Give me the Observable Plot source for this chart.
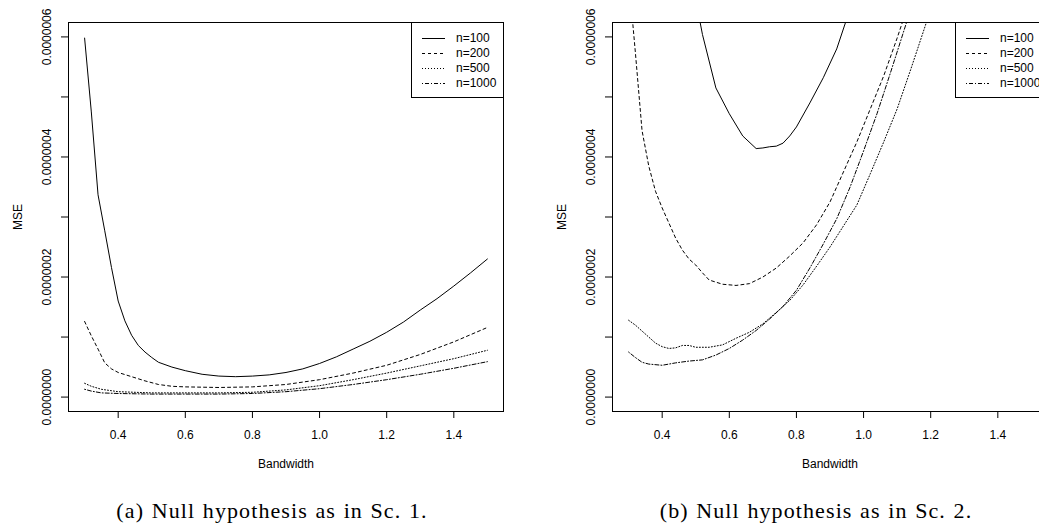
<!DOCTYPE html>
<html>
<head>
<meta charset="utf-8">
<script src="https://cdn.jsdelivr.net/npm/d3@7"></script>
<script src="https://cdn.jsdelivr.net/npm/@observablehq/plot@0.6"></script>
<style>
body { margin: 0; background: #fff; }
#wrap { position: relative; width: 1039px; height: 524px; overflow: hidden; background: #fff; }
.fig { position: absolute; top: 0; width: 544px; height: 524px; }
.cap { position: absolute; left: 0; width: 544px; top: 500px; text-align: center;
  font-family: "Liberation Serif", "DejaVu Serif", serif; font-size: 22px; line-height: 22px; color: #000;
  letter-spacing: 1.1px; word-spacing: 1px; }
.leg { position: absolute; left: 411px; top: 22px; width: 91px; height: 74px; border: 1px solid #000; background: #fff;
  font-family: "Liberation Sans", Arial, sans-serif; font-size: 12px; color: #000; }
.leg .sw { position: absolute; left: 10px; width: 23px; height: 14px; }
.leg .lb { position: absolute; left: 44px; height: 14px; line-height: 14px; white-space: nowrap; }
</style>
</head>
<body>
<div id="wrap"></div>
<script>
// ---------- data ----------
const seriesNames = ["n=100", "n=200", "n=500", "n=1000"];
const xTicks = [0.4, 0.6, 0.8, 1.0, 1.2, 1.4];
const yTicks = [0, 1e-7, 2e-7, 3e-7, 4e-7, 5e-7, 6e-7];
const yTickLabels = [0, 2e-7, 4e-7, 6e-7];
const captions = ["(a) Null hypothesis as in Sc. 1.", "(b) Null hypothesis as in Sc. 2."];

// Panel (a)
const a_bw_100 = [0.30,0.32,0.34,0.36,0.38,0.40,0.42,0.44,0.46,0.48,0.50,0.52,0.56,0.60,0.65,0.70,0.75,0.80,0.85,0.90,0.95,1.00,1.05,1.10,1.15,1.20,1.25,1.30,1.35,1.40,1.45,1.50];
const a_mse_100 = [5.98e-7,4.75e-7,3.37e-7,2.77e-7,2.16e-7,1.60e-7,1.27e-7,1.03e-7,0.86e-7,0.75e-7,0.66e-7,0.58e-7,0.50e-7,0.44e-7,0.38e-7,0.35e-7,0.34e-7,0.35e-7,0.37e-7,0.41e-7,0.47e-7,0.56e-7,0.67e-7,0.80e-7,0.93e-7,1.08e-7,1.25e-7,1.45e-7,1.64e-7,1.85e-7,2.07e-7,2.30e-7];
const a_bw_200 = [0.30,0.32,0.34,0.36,0.38,0.40,0.44,0.48,0.52,0.56,0.60,0.70,0.80,0.90,1.00,1.10,1.20,1.30,1.40,1.50];
const a_mse_200 = [1.26e-7,1.02e-7,0.80e-7,0.57e-7,0.47e-7,0.41e-7,0.34e-7,0.27e-7,0.21e-7,0.18e-7,0.17e-7,0.16e-7,0.17e-7,0.21e-7,0.29e-7,0.40e-7,0.53e-7,0.71e-7,0.92e-7,1.16e-7];
const a_bw_500 = [0.30,0.32,0.35,0.40,0.50,0.60,0.70,0.80,0.90,1.00,1.10,1.20,1.30,1.40,1.50];
const a_mse_500 = [0.23e-7,0.18e-7,0.13e-7,0.09e-7,0.07e-7,0.07e-7,0.07e-7,0.08e-7,0.12e-7,0.19e-7,0.29e-7,0.40e-7,0.52e-7,0.64e-7,0.78e-7];
const a_bw_1000 = [0.30,0.32,0.35,0.40,0.50,0.60,0.70,0.80,0.90,1.00,1.10,1.20,1.30,1.40,1.50];
const a_mse_1000 = [0.13e-7,0.10e-7,0.07e-7,0.06e-7,0.05e-7,0.05e-7,0.05e-7,0.06e-7,0.09e-7,0.14e-7,0.21e-7,0.29e-7,0.38e-7,0.48e-7,0.59e-7];

// Panel (b)
const b_bw_100 = [0.48,0.52,0.56,0.60,0.64,0.68,0.70,0.72,0.74,0.76,0.78,0.80,0.84,0.88,0.92,0.96,1.00];
const b_mse_100 = [7.2e-7,6.04e-7,5.15e-7,4.72e-7,4.35e-7,4.14e-7,4.15e-7,4.17e-7,4.18e-7,4.23e-7,4.35e-7,4.50e-7,4.90e-7,5.32e-7,5.80e-7,6.47e-7,7.3e-7];
const b_bw_200 = [0.30,0.32,0.34,0.36,0.38,0.40,0.44,0.46,0.48,0.50,0.52,0.54,0.58,0.62,0.66,0.70,0.74,0.78,0.82,0.86,0.90,0.94,0.98,1.02,1.06,1.10,1.14];
const b_mse_200 = [7.0e-7,5.75e-7,4.44e-7,3.85e-7,3.43e-7,3.15e-7,2.65e-7,2.45e-7,2.30e-7,2.20e-7,2.07e-7,1.95e-7,1.88e-7,1.86e-7,1.89e-7,2.00e-7,2.15e-7,2.35e-7,2.57e-7,2.87e-7,3.25e-7,3.75e-7,4.25e-7,4.80e-7,5.35e-7,5.98e-7,6.65e-7];
const b_bw_500 = [0.30,0.32,0.34,0.36,0.38,0.40,0.42,0.44,0.46,0.48,0.50,0.54,0.58,0.62,0.66,0.70,0.74,0.78,0.82,0.86,0.90,0.94,0.98,1.02,1.06,1.10,1.14,1.18,1.22];
const b_mse_500 = [1.28e-7,1.20e-7,1.10e-7,1.00e-7,0.90e-7,0.84e-7,0.81e-7,0.82e-7,0.86e-7,0.86e-7,0.83e-7,0.83e-7,0.87e-7,0.98e-7,1.08e-7,1.22e-7,1.41e-7,1.61e-7,1.87e-7,2.18e-7,2.50e-7,2.85e-7,3.20e-7,3.72e-7,4.25e-7,4.80e-7,5.45e-7,6.12e-7,6.8e-7];
const b_bw_1000 = [0.30,0.32,0.34,0.36,0.40,0.44,0.48,0.52,0.56,0.60,0.64,0.68,0.72,0.76,0.80,0.84,0.88,0.92,0.96,1.00,1.04,1.08,1.12,1.16];
const b_mse_1000 = [0.75e-7,0.66e-7,0.58e-7,0.55e-7,0.53e-7,0.57e-7,0.60e-7,0.62e-7,0.70e-7,0.81e-7,0.95e-7,1.11e-7,1.30e-7,1.51e-7,1.78e-7,2.15e-7,2.55e-7,2.97e-7,3.50e-7,4.10e-7,4.72e-7,5.40e-7,6.10e-7,6.8e-7];

// ---------- drawing ----------
const dashes = [null, "3,3", "1,2", "1,2,4,2"];
const xDomain = [0.252, 1.548];
const yDomain = [-2.4e-8, 6.24e-7];

function panel(series) {
  return Plot.plot({
    width: 544, height: 480,
    marginLeft: 68, marginRight: 41, marginTop: 22, marginBottom: 69,
    style: { fontFamily: "'Liberation Sans', Arial, sans-serif", fontSize: "12px", background: "white", color: "black" },
    x: { domain: xDomain },
    y: { domain: yDomain },
    marks: [
      ...series.map((s, i) => Plot.line(d3.zip(s[0], s[1]), {
        x: d => d[0], y: d => d[1], stroke: "black", strokeWidth: 1,
        strokeDasharray: dashes[i] || undefined, clip: true
      })),
      Plot.frame({ stroke: "black", strokeWidth: 1 }),
      Plot.axisX({ ticks: xTicks, tickSize: 7, tickPadding: 12, tickFormat: d3.format(".1f"), label: null, fontSize: 12 }),
      Plot.axisY({ ticks: yTicks, tickSize: 7, tickFormat: () => "", label: null }),
      Plot.text(yTickLabels, { y: d => d, text: d => d3.format(".7f")(d), frameAnchor: "left", dx: -21,
        rotate: -90, textAnchor: "middle", lineAnchor: "middle", fontSize: 12 }),
      Plot.text(["Bandwidth"], { text: d => d, frameAnchor: "bottom", dy: 53, lineAnchor: "middle", fontSize: 12 }),
      Plot.text(["MSE"], { text: d => d, frameAnchor: "left", dx: -50, rotate: -90, textAnchor: "middle", lineAnchor: "middle", fontSize: 12 })
    ]
  });
}

function legend() {
  const box = document.createElement("div");
  box.className = "leg";
  seriesNames.forEach((name, i) => {
    const cy = 15 + 15 * i;
    const sw = document.createElementNS("http://www.w3.org/2000/svg", "svg");
    sw.setAttribute("class", "sw");
    sw.setAttribute("width", 23); sw.setAttribute("height", 14);
    sw.style.top = (cy - 7) + "px";
    const ln = document.createElementNS("http://www.w3.org/2000/svg", "line");
    ln.setAttribute("x1", 0); ln.setAttribute("x2", 23);
    ln.setAttribute("y1", 7.5); ln.setAttribute("y2", 7.5);
    ln.setAttribute("stroke", "black"); ln.setAttribute("stroke-width", 1);
    if (dashes[i]) ln.setAttribute("stroke-dasharray", dashes[i]);
    sw.appendChild(ln);
    box.appendChild(sw);
    const lb = document.createElement("div");
    lb.className = "lb";
    lb.style.top = (cy - 7) + "px";
    lb.textContent = name;
    box.appendChild(lb);
  });
  return box;
}

const panels = [
  [[a_bw_100, a_mse_100], [a_bw_200, a_mse_200], [a_bw_500, a_mse_500], [a_bw_1000, a_mse_1000]],
  [[b_bw_100, b_mse_100], [b_bw_200, b_mse_200], [b_bw_500, b_mse_500], [b_bw_1000, b_mse_1000]]
];

const wrap = document.getElementById("wrap");
panels.forEach((series, k) => {
  const fig = document.createElement("div");
  fig.className = "fig";
  fig.style.left = (544 * k) + "px";
  fig.appendChild(panel(series));
  fig.appendChild(legend());
  const cap = document.createElement("div");
  cap.className = "cap";
  cap.textContent = captions[k];
  fig.appendChild(cap);
  wrap.appendChild(fig);
});
</script>
</body>
</html>
